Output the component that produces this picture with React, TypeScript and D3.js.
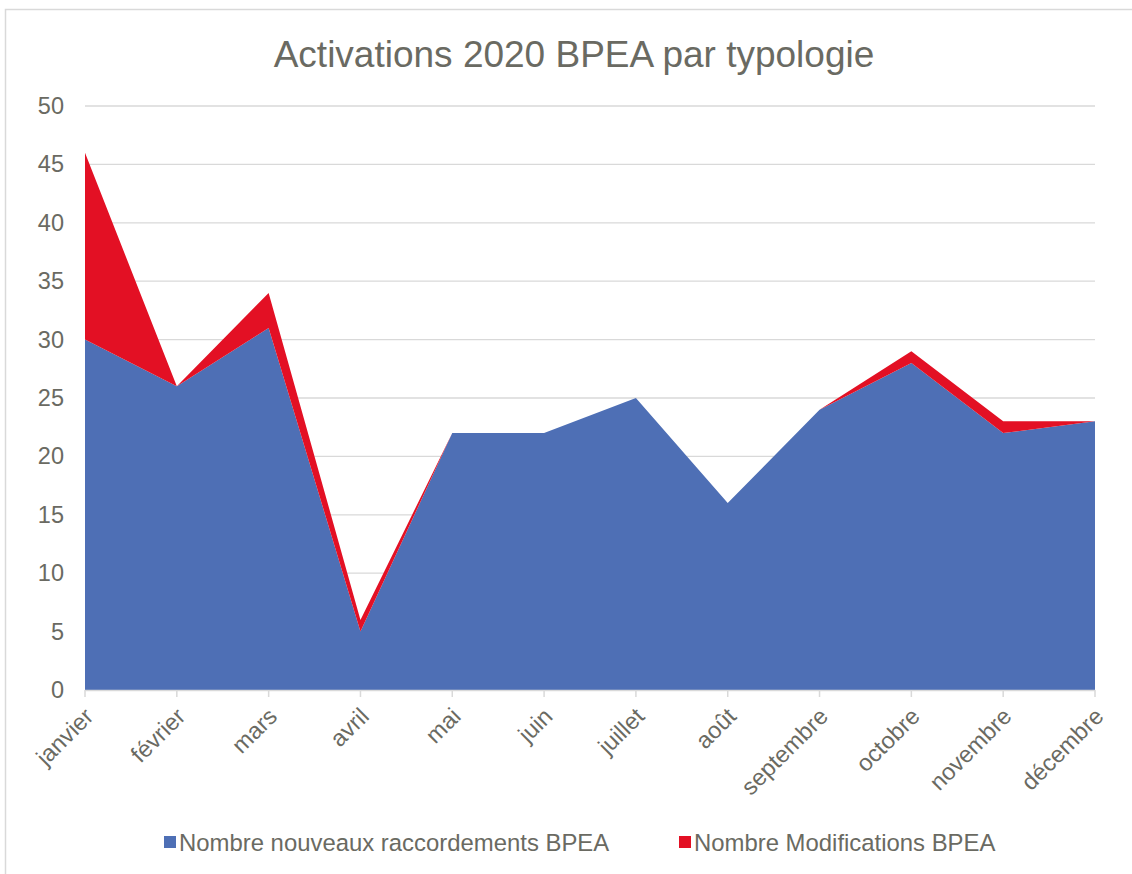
import React from "react";
import * as d3 from "d3";

const months = ["janvier", "février", "mars", "avril", "mai", "juin", "juillet", "août", "septembre", "octobre", "novembre", "décembre"];
const nouveaux = [30, 26, 31, 5, 22, 22, 25, 16, 24, 28, 22, 23];
const modifications = [16, 0, 3, 1, 0, 0, 0, 0, 0, 1, 1, 0];
const yTicks = [0, 5, 10, 15, 20, 25, 30, 35, 40, 45, 50];
const seriesNames = ["Nombre nouveaux raccordements BPEA", "Nombre Modifications BPEA"];
const seriesColors = ["#4e6fb5", "#e31024"];

const W = 1132, H = 874;
const left = 85, right = 1095, top = 106, bottom = 690;
const textColor = "#6a6a62";
const font = "'Liberation Sans', Arial, sans-serif";

export default function App() {
  const x = d3.scalePoint<string>().domain(months).range([left, right]);
  const y = d3.scaleLinear().domain([0, 50]).range([bottom, top]);
  const rows = months.map((m, i) => ({ m, a: nouveaux[i], b: modifications[i] }));
  const stack = d3.stack<any>().keys(["a", "b"])(rows);
  const area = d3.area<any>()
    .x((d) => x(d.data.m) as number)
    .y0((d) => y(d[0]))
    .y1((d) => y(d[1]));

  return (
    <svg width={W} height={H} style={{ position: "absolute", left: 0, top: 0, background: "#fff" }} fontFamily={font}>
      <rect x={5.5} y={9.5} width={W + 10} height={H + 10} fill="#fff" stroke="#d9d9d9" strokeWidth={1.5} />
      <text x={574} y={67} textAnchor="middle" fontSize={37} fill={textColor}>Activations 2020 BPEA par typologie</text>
      {yTicks.map((t) => (
        <g key={t}>
          {t > 0 && <line x1={left} x2={right} y1={y(t)} y2={y(t)} stroke="#d9d9d9" strokeWidth={1.3} />}
          <text x={64} y={y(t) + 8} textAnchor="end" fontSize={23.5} fill={textColor}>{t}</text>
        </g>
      ))}
      {stack.map((s, i) => (
        <path key={i} d={area(s) as string} fill={seriesColors[i]} />
      ))}
      <line x1={left} x2={right} y1={bottom + 0.5} y2={bottom + 0.5} stroke="#d9d9d9" strokeWidth={1.5} />
      {months.map((m) => {
        const xv = x(m) as number;
        return (
          <g key={m}>
            <line x1={xv} x2={xv} y1={bottom} y2={bottom + 7} stroke="#d9d9d9" strokeWidth={1.5} />
            <text transform={`translate(${xv - 2},${bottom + 16}) rotate(-45)`} textAnchor="end" dominantBaseline="hanging" fontSize={23.5} fill={textColor}>{m}</text>
          </g>
        );
      })}
      {seriesNames.map((n, i) => {
        const lx = i === 0 ? 164 : 679;
        return (
          <g key={n}>
            <rect x={lx} y={836} width={12} height={12} fill={seriesColors[i]} />
            <text x={lx + 15} y={851} fontSize={23.9} fill={textColor}>{n}</text>
          </g>
        );
      })}
    </svg>
  );
}
